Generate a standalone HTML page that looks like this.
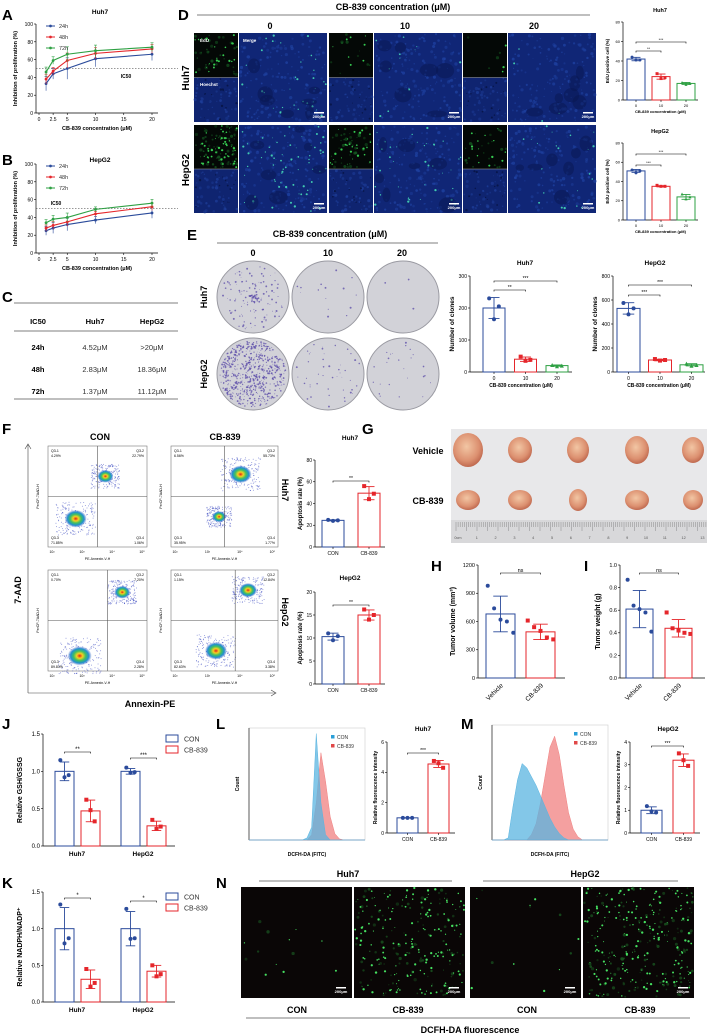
<!DOCTYPE html>
<html><head><meta charset="utf-8"><style>
html,body{margin:0;padding:0;background:#fff;}
svg{display:block;font-family:"Liberation Sans",Arial,sans-serif;}
</style></head><body>
<svg id="root" xmlns="http://www.w3.org/2000/svg" width="707" height="1036" viewBox="0 0 707 1036">
<rect width="707" height="1036" fill="#fff"/>
<defs>
<radialGradient id="blob" cx="50%" cy="50%" r="50%">
<stop offset="0" stop-color="#e0201a"/><stop offset="0.25" stop-color="#f5d020"/><stop offset="0.5" stop-color="#40c060"/><stop offset="0.75" stop-color="#2090d0"/><stop offset="1" stop-color="#3050c0" stop-opacity="0"/>
</radialGradient>
<radialGradient id="tumor" cx="45%" cy="40%" r="60%">
<stop offset="0" stop-color="#f2c6a4"/><stop offset="0.7" stop-color="#dc9070"/><stop offset="1" stop-color="#c06a50"/>
</radialGradient>
</defs>
<g font-weight="bold" font-size="15" fill="#000">
<text x="2" y="20">A</text>
<text x="2" y="165">B</text>
<text x="2" y="302">C</text>
<text x="178" y="20">D</text>
<text x="187" y="240">E</text>
<text x="2" y="434">F</text>
<text x="362" y="434">G</text>
<text x="431" y="571">H</text>
<text x="584" y="571">I</text>
<text x="2" y="729">J</text>
<text x="216" y="729">L</text>
<text x="461" y="729">M</text>
<text x="2" y="888">K</text>
<text x="216" y="888">N</text>
</g>
<g font-size="7.5" text-anchor="middle">
<line x1="14" y1="303" x2="178" y2="303" stroke="#555" stroke-width="0.8"/>
<text x="38" y="324" font-weight="bold">IC50</text><text x="95" y="324" font-weight="bold">Huh7</text><text x="152" y="324" font-weight="bold">HepG2</text>
<line x1="14" y1="331" x2="178" y2="331" stroke="#555" stroke-width="0.8"/>
<text x="38" y="350" font-weight="bold">24h</text><text x="95" y="350" fill="#333">4.52μM</text><text x="152" y="350" fill="#333">&gt;20μM</text>
<text x="38" y="372" font-weight="bold">48h</text><text x="95" y="372" fill="#333">2.83μM</text><text x="152" y="372" fill="#333">18.36μM</text>
<text x="38" y="394" font-weight="bold">72h</text><text x="95" y="394" fill="#333">1.37μM</text><text x="152" y="394" fill="#333">11.12μM</text>
<line x1="14" y1="399" x2="178" y2="399" stroke="#555" stroke-width="0.8"/>
</g>
<g font-weight="bold" text-anchor="middle">
<text x="393" y="10" font-size="9">CB-839 concentration (μM)</text>
<line x1="197" y1="15" x2="590" y2="15" stroke="#555" stroke-width="0.8"/>
<text x="270" y="29" font-size="9">0</text><text x="405" y="29" font-size="9">10</text><text x="534" y="29" font-size="9">20</text>
<text transform="translate(189,78) rotate(-90)" font-size="10">Huh7</text>
<text transform="translate(189,170) rotate(-90)" font-size="10">HepG2</text>
</g>
<g font-weight="bold" text-anchor="middle">
<text x="330" y="237" font-size="9">CB-839 concentration (μM)</text>
<line x1="217" y1="243" x2="438" y2="243" stroke="#555" stroke-width="0.8"/>
<text x="253" y="256" font-size="9">0</text><text x="328" y="256" font-size="9">10</text><text x="402" y="256" font-size="9">20</text>
<text transform="translate(207,297) rotate(-90)" font-size="9">Huh7</text>
<text transform="translate(207,374) rotate(-90)" font-size="9">HepG2</text>
</g>
<g font-weight="bold" text-anchor="middle">
<text x="100" y="440" font-size="9">CON</text><text x="225" y="440" font-size="9">CB-839</text>
<text transform="translate(21,590) rotate(-90)" font-size="9">7-AAD</text>
<text x="150" y="707" font-size="9">Annexin-PE</text>
<line x1="28" y1="693" x2="28" y2="445" stroke="#444" stroke-width="0.6"/><path d="M25,449 L28,444 L31,449" fill="none" stroke="#444" stroke-width="0.6"/>
<line x1="28" y1="693" x2="275" y2="693" stroke="#444" stroke-width="0.6"/><path d="M271,690 L276,693 L271,696" fill="none" stroke="#444" stroke-width="0.6"/>
<text transform="translate(282,490) rotate(90)" font-size="9">Huh7</text>
<text transform="translate(282,612) rotate(90)" font-size="9">HepG2</text>
</g>
<g font-weight="bold" text-anchor="middle" font-size="9">
<text x="348" y="877">Huh7</text><line x1="259" y1="881" x2="452" y2="881" stroke="#555" stroke-width="0.8"/>
<text x="585" y="877">HepG2</text><line x1="483" y1="881" x2="678" y2="881" stroke="#555" stroke-width="0.8"/>
<text x="297" y="1013">CON</text><text x="408" y="1013">CB-839</text><text x="527" y="1013">CON</text><text x="640" y="1013">CB-839</text>
<line x1="246" y1="1018" x2="690" y2="1018" stroke="#555" stroke-width="0.8"/>
<text x="470" y="1033">DCFH-DA fluorescence</text>
</g>
<g id="gen"></g>
</svg>
<script>
// ===== Chart data =====
const concX = [1.25, 2.5, 5, 10, 20];
const huh7_24h = [33, 44, 50, 61, 66];
const huh7_48h = [38, 47, 59, 67, 72];
const huh7_72h = [46, 59, 66, 70, 74];
const huh7_err = [8, 6, 12, 9, 7];
const hepg2_24h = [25, 28, 32, 37, 45];
const hepg2_48h = [28, 31, 35, 44, 52];
const hepg2_72h = [34, 38, 40, 49, 56];
const hepg2_err = [5, 6, 7, 4, 6];
const lineTicksY = [0, 20, 40, 60, 80, 100];
const lineTicksX = [0, 2.5, 5, 10, 15, 20];

const doseCats = ['0', '10', '20'];
const edu_huh7 = [42, 24, 17];
const edu_huh7_pts = [[44, 41, 41], [27, 22, 23], [18, 16, 17]];
const edu_hepg2 = [51, 35, 24];
const edu_hepg2_pts = [[52, 49, 51], [36, 35, 35], [27, 22, 24]];
const clone_huh7 = [200, 40, 20];
const clone_huh7_pts = [[230, 165, 205], [48, 35, 38], [22, 18, 20]];
const clone_hepg2 = [530, 100, 60];
const clone_hepg2_pts = [[575, 480, 530], [108, 95, 100], [70, 52, 58]];
const groupCats = ['CON', 'CB-839'];
const apo_huh7 = [24.5, 49.5];
const apo_huh7_pts = [[25, 24, 24.5], [56, 44, 49]];
const apo_hepg2 = [10.3, 15];
const apo_hepg2_pts = [[11, 9.5, 10.4], [16.2, 14, 15]];
const tumorCats = ['Vehicle', 'CB-839'];
const tumor_vol = [680, 490];
const tumor_vol_pts = [[980, 740, 620, 600, 480], [610, 540, 500, 430, 410]];
const tumor_wt = [0.61, 0.44];
const tumor_wt_pts = [[0.87, 0.64, 0.61, 0.58, 0.41], [0.58, 0.44, 0.42, 0.40, 0.39]];
const cellCats = ['Huh7', 'HepG2'];
const gsh_con = [1.0, 1.0];
const gsh_cb = [0.47, 0.27];
const gsh_con_pts = [[1.15, 0.92, 0.95], [1.05, 0.98, 0.99]];
const gsh_cb_pts = [[0.62, 0.48, 0.33], [0.35, 0.23, 0.26]];
const nadph_con = [1.0, 1.0];
const nadph_cb = [0.31, 0.42];
const nadph_con_pts = [[1.33, 0.80, 0.87], [1.27, 0.86, 0.87]];
const nadph_cb_pts = [[0.45, 0.21, 0.26], [0.50, 0.35, 0.38]];
const ros_huh7 = [1.0, 4.55];
const ros_huh7_pts = [[1.0, 1.0, 1.0], [4.75, 4.6, 4.3]];
const ros_hepg2 = [1.0, 3.2];
const ros_hepg2_pts = [[1.18, 0.95, 0.9], [3.5, 3.2, 2.95]];
const histL_con = [0,0,0,0,0,0,0,0,0,0,0,0,0.02,0.12,1.0,0.35,0.05,0,0,0,0,0,0,0,0];
const histL_cb  = [0,0,0,0,0,0,0,0,0,0,0,0,0,0.05,0.35,0.82,0.55,0.22,0.06,0.01,0,0,0,0,0];
const histM_con = [0,0,0,0.02,0.3,0.55,0.7,0.66,0.58,0.5,0.4,0.3,0.2,0.12,0.06,0.02,0,0,0,0,0,0,0,0,0];
const histM_cb  = [0,0,0,0,0,0,0,0,0.05,0.15,0.35,0.6,0.85,0.95,0.78,0.5,0.25,0.1,0.03,0,0,0,0,0,0];

// ===== helpers =====
const NS = 'http://www.w3.org/2000/svg';
const gen = document.getElementById('gen');
function mk(tag, attrs, parent) {
  const e = document.createElementNS(NS, tag);
  for (const k in attrs) e.setAttribute(k, attrs[k]);
  (parent || gen).appendChild(e);
  return e;
}
function tx(p, x, y, s, size, extra) {
  const a = Object.assign({x: x, y: y, 'font-size': size, 'text-anchor': 'middle'}, extra || {});
  const t = mk('text', a, p); t.textContent = s; return t;
}
let seed = 12345;
function rnd() { seed = (seed * 16807) % 2147483647; return (seed - 1) / 2147483646; }
const BLUE = '#2b4b9b', RED = '#e5262b', GREEN = '#2ea043';

function barChart(o) {
  const g = mk('g', {});
  
  
  const sy = v => o.y0 - v / o.vmax * (o.y0 - o.y1);
  const fs = o.fs || 5;
  mk('line', {x1: o.ax, y1: o.y0, x2: o.ax, y2: o.y1, stroke: '#000', 'stroke-width': 0.7}, g);
  mk('line', {x1: o.ax, y1: o.y0, x2: o.xEnd, y2: o.y0, stroke: '#000', 'stroke-width': 0.7}, g);
  o.ticks.forEach(t => {
    mk('line', {x1: o.ax - 2, y1: sy(t), x2: o.ax, y2: sy(t), stroke: '#000', 'stroke-width': 0.6}, g);
    tx(g, o.ax - 3, sy(t) + fs * 0.35, o.tickFmt ? o.tickFmt(t) : String(t), fs, {'text-anchor': 'end'});
  });
  o.values.forEach((v, i) => {
    const x = o.bx(i), w = o.bw, c = o.colors[i], cx = x + w / 2;
    const r = mk('rect', {x: x, y: sy(v), width: w, height: o.y0 - sy(v), fill: '#fff', stroke: c, 'stroke-width': 1}, g);
    
    
    const pts = o.pts[i];
    const mean = pts.reduce((a, b) => a + b, 0) / pts.length;
    const sd = Math.sqrt(pts.reduce((a, b) => a + (b - mean) * (b - mean), 0) / (pts.length - 1));
    mk('line', {x1: cx, y1: sy(v + sd), x2: cx, y2: sy(Math.max(0, v - sd)), stroke: c, 'stroke-width': 0.9}, g);
    mk('line', {x1: cx - w * 0.25, y1: sy(v + sd), x2: cx + w * 0.25, y2: sy(v + sd), stroke: c, 'stroke-width': 0.9}, g);
    mk('line', {x1: cx - w * 0.25, y1: sy(Math.max(0, v - sd)), x2: cx + w * 0.25, y2: sy(Math.max(0, v - sd)), stroke: c, 'stroke-width': 0.9}, g);
    pts.forEach((p, k) => {
      const px = cx + (k - (pts.length - 1) / 2) * w * 0.22;
      const ps = o.ps || 2;
      let d;
      if (c === BLUE) d = mk('circle', {cx: px, cy: sy(p), r: ps, fill: c}, g);
      else if (c === RED) d = mk('rect', {x: px - ps, y: sy(p) - ps, width: ps * 2, height: ps * 2, fill: c}, g);
      else d = mk('path', {d: `M${px},${sy(p) - ps} L${px + ps},${sy(p) + ps} L${px - ps},${sy(p) + ps}Z`, fill: c}, g);
      
      
    });
    if (o.cats) {
      if (o.rot) tx(g, 0, 0, o.cats[i], fs + 1, {transform: `translate(${cx + 3},${o.y0 + 8}) rotate(-45)`, 'text-anchor': 'end'});
      else { mk('line', {x1: cx, y1: o.y0, x2: cx, y2: o.y0 + 2, stroke: '#000', 'stroke-width': 0.6}, g); tx(g, cx, o.y0 + fs + 3, o.cats[i], fs); }
    }
  });
  (o.sig || []).forEach(s => {
    const x1 = o.bx(s[0]) + o.bw / 2, x2 = o.bx(s[1]) + o.bw / 2, y = s[2];
    mk('path', {d: `M${x1},${y + 1.5} L${x1},${y} L${x2},${y} L${x2},${y + 1.5}`, fill: 'none', stroke: '#000', 'stroke-width': 0.6}, g);
    tx(g, (x1 + x2) / 2, y - 1, s[3], fs);
  });
  if (o.title) tx(g, o.tx || (o.ax + o.xEnd) / 2, o.ty, o.title, fs + 1.5, {'font-weight': 'bold'});
  if (o.ylabel) tx(g, 0, 0, o.ylabel, o.ylfs || fs + 1, {transform: `translate(${o.ylx},${(o.y0 + o.y1) / 2}) rotate(-90)`, 'font-weight': 'bold'});
  if (o.xlabel) tx(g, (o.ax + o.xEnd) / 2, o.y0 + fs * 2 + 5, o.xlabel, fs, {'font-weight': 'bold'});
  return g;
}

function lineChart(o) {
  const g = mk('g', {});
  
  
  const sx = v => 39 + v * 5.65, sy = v => o.y0 - v / 100 * (o.y0 - o.y1);
  mk('line', {x1: 36, y1: o.y0, x2: 36, y2: o.y1, stroke: '#000', 'stroke-width': 0.7}, g);
  mk('line', {x1: 36, y1: o.y0, x2: 158, y2: o.y0, stroke: '#000', 'stroke-width': 0.7}, g);
  lineTicksY.forEach(t => { mk('line', {x1: 34, y1: sy(t), x2: 36, y2: sy(t), stroke: '#000', 'stroke-width': 0.6}, g); tx(g, 33, sy(t) + 2, String(t), 5, {'text-anchor': 'end'}); });
  lineTicksX.forEach(t => { mk('line', {x1: sx(t), y1: o.y0, x2: sx(t), y2: o.y0 + 2, stroke: '#000', 'stroke-width': 0.6}, g); tx(g, sx(t), o.y0 + 8, String(t), 5); });
  mk('line', {x1: 36, y1: sy(50), x2: 178, y2: sy(50), stroke: '#333', 'stroke-width': 0.6, 'stroke-dasharray': '1.5,1.5'}, g);
  tx(g, o.icx, o.icy, 'IC50', 5, {'font-weight': 'bold'});
  const cols = [BLUE, RED, GREEN], labs = ['24h', '48h', '72h'];
  o.series.forEach((s, si) => {
    const c = cols[si];
    const pl = mk('polyline', {points: concX.map((x, i) => sx(x) + ',' + sy(s[i])).join(' '), fill: 'none', stroke: c, 'stroke-width': 1.1}, g);
    
    
    concX.forEach((x, i) => {
      const e = o.err[i] * (si === 0 ? 1 : 0.7);
      mk('line', {x1: sx(x), y1: sy(s[i] - e), x2: sx(x), y2: sy(s[i] + e), stroke: c, 'stroke-width': 0.6}, g);
      mk('line', {x1: sx(x) - 1.5, y1: sy(s[i] + e), x2: sx(x) + 1.5, y2: sy(s[i] + e), stroke: c, 'stroke-width': 0.6}, g);
      const p = mk('circle', {cx: sx(x), cy: sy(s[i]), r: 1.4, fill: c}, g);
      
      
    });
    mk('line', {x1: 46, y1: o.y1 + 2 + si * 11, x2: 55, y2: o.y1 + 2 + si * 11, stroke: c, 'stroke-width': 1}, g);
    mk('circle', {cx: 50.5, cy: o.y1 + 2 + si * 11, r: 1.4, fill: c}, g);
    tx(g, 59, o.y1 + 4 + si * 11, labs[si], 5.5, {'text-anchor': 'start', fill: '#333'});
  });
  tx(g, 100, o.ty, o.title, 6.5, {'font-weight': 'bold'});
  tx(g, 0, 0, 'Inhibition of proliferation (%)', 5.5, {transform: `translate(17,${(o.y0 + o.y1) / 2}) rotate(-90)`, 'font-weight': 'bold'});
  tx(g, 97, o.y0 + 17, 'CB-839 concentration (μM)', 5.5, {'font-weight': 'bold'});
}

lineChart({name: 'chart-a-huh7', y0: 113, y1: 24, series: [huh7_24h, huh7_48h, huh7_72h], err: huh7_err, title: 'Huh7', ty: 14, icx: 126, icy: 78});
lineChart({name: 'chart-b-hepg2', y0: 253, y1: 164, series: [hepg2_24h, hepg2_48h, hepg2_72h], err: hepg2_err, title: 'HepG2', ty: 162, icx: 56, icy: 205});

// ===== textures =====
function micro(x, y, w, h, base, dot, n, dot2, n2, name) {
  const g = mk('g', {});
  
  
  mk('rect', {x: x, y: y, width: w, height: h, fill: base}, g);
  for (let i = 0; i < n; i++) mk('circle', {cx: x + 1 + rnd() * (w - 2), cy: y + 1 + rnd() * (h - 2), r: 0.5 + rnd() * 1.2, fill: dot, opacity: 0.4 + rnd() * 0.4}, g);
  for (let i = 0; i < n2; i++) mk('circle', {cx: x + 1 + rnd() * (w - 2), cy: y + 1 + rnd() * (h - 2), r: 0.4 + rnd() * 0.8, fill: dot2}, g);
  return g;
}
function scale(g, x, y) { mk('rect', {x: x, y: y, width: 10, height: 1.5, fill: '#fff'}, g); tx(g, x + 5, y + 6, '200μm', 4, {fill: '#fff', 'font-weight': 'bold'}); }
const dGroups = [194, 329, 463], dRows = [[33, 122], [125, 213]];
const greenN = [[90, 30, 10], [200, 110, 60]];
dRows.forEach((r, ri) => dGroups.forEach((gx, gi) => {
  const h = r[1] - r[0], mid = r[0] + h / 2;
  micro(gx, r[0], 44, h / 2, '#040806', '#155a22', greenN[ri][gi] / 3, '#35c850', greenN[ri][gi] / 4, 'edu-panel');
  micro(gx, mid, 44, h / 2, '#0f2470', '#1e3e9a', 50, '#08164a', 15, 'hoechst-panel');
  const m = micro(gx + 45, r[0], 88, h, '#102676', '#1f42a2', 170, '#40c8b0', greenN[ri][gi] * 0.35, 'merge-panel');
  for (let i = 0; i < 7; i++) { const rx = 4 + rnd() * 6, ry = 3 + rnd() * 5; mk('ellipse', {cx: gx + 45 + rx + rnd() * (88 - 2 * rx), cy: r[0] + ry + rnd() * (h - 2 * ry), rx: rx, ry: ry, fill: '#081650', opacity: 0.5}, m); }
  mk('line', {x1: gx, y1: mid, x2: gx + 44, y2: mid, stroke: '#aaa', 'stroke-width': 0.6}, m);
  scale(m, gx + 120, r[1] - 10);
}));
tx(gen, 200, 42, 'EdU', 4.5, {fill: '#fff', 'text-anchor': 'start', 'font-weight': 'bold'});
tx(gen, 200, 86, 'Hoechst', 4.5, {fill: '#fff', 'text-anchor': 'start', 'font-weight': 'bold'});
tx(gen, 243, 42, 'Merge', 4.5, {fill: '#fff', 'text-anchor': 'start', 'font-weight': 'bold'});

// colony plates
const plX = [217, 292, 367], plY = [261, 338], plDots = [[140, 15, 3], [600, 45, 25]];
plY.forEach((py, ri) => plX.forEach((px, ci) => {
  const g = mk('g', {});
  
  
  mk('circle', {cx: px + 36, cy: py + 36, r: 36, fill: '#d2d2d8', stroke: '#9a9aa2', 'stroke-width': 1}, g);
  const conc = ri === 0 && ci === 0;
  for (let i = 0; i < plDots[ri][ci]; i++) { const a = rnd() * 6.283, rr = (conc ? rnd() : Math.sqrt(rnd())) * 33; mk('circle', {cx: px + 36 + Math.cos(a) * rr, cy: py + 36 + Math.sin(a) * rr, r: 0.3 + rnd() * 0.7, fill: '#5a4aa8', opacity: 0.75}, g); }
}));

// flow plots
const fX = [48, 171], fY = [446, 570];
const flowBlobs = [[[[0.28, 0.72, 11], [0.58, 0.3, 8]], [[0.45, 0.7, 7], [0.65, 0.28, 11]]], [[[0.32, 0.85, 12], [0.75, 0.22, 8]], [[0.42, 0.8, 11], [0.72, 0.2, 9]]]];
const flowQ = [[['4.29%', '22.79%', '71.85%', '1.06%'], ['6.56%', '55.73%', '35.95%', '1.77%']], [['0.70%', '7.20%', '89.83%', '2.28%'], ['1.15%', '12.84%', '82.63%', '3.38%']]];
fY.forEach((fy, ri) => fX.forEach((fx, ci) => {
  const g = mk('g', {});
  
  
  const w = ci ? 107 : 99, h = 101;
  mk('rect', {x: fx, y: fy, width: w, height: h, fill: '#fff', stroke: '#777', 'stroke-width': 0.6}, g);
  const qx = fx + w * (ri ? 0.6 : 0.5), qy = fy + h * 0.5;
  for (let i = 0; i < 400; i++) {
    const b = flowBlobs[ri][ci][i % 2];
    const px = fx + w * b[0] + (rnd() - 0.5) * b[2] * 3.6, py = fy + h * b[1] + (rnd() - 0.5) * b[2] * 3;
    mk('circle', {cx: px, cy: py, r: 0.5, fill: '#3848c0', opacity: 0.6}, g);
  }
  flowBlobs[ri][ci].forEach(b => mk('ellipse', {cx: fx + w * b[0], cy: fy + h * b[1], rx: b[2], ry: b[2] * 0.8, fill: 'url(#blob)'}, g));
  mk('line', {x1: qx, y1: fy, x2: qx, y2: fy + h, stroke: '#555', 'stroke-width': 0.6}, g);
  mk('line', {x1: fx, y1: qy, x2: fx + w, y2: qy, stroke: '#555', 'stroke-width': 0.6}, g);
  const q = flowQ[ri][ci];
  tx(g, fx + 3, fy + 6, 'Q3-1', 3.5, {'text-anchor': 'start'}); tx(g, fx + 3, fy + 11, q[0], 3.5, {'text-anchor': 'start'});
  tx(g, fx + w - 3, fy + 6, 'Q3-2', 3.5, {'text-anchor': 'end'}); tx(g, fx + w - 3, fy + 11, q[1], 3.5, {'text-anchor': 'end'});
  tx(g, fx + 3, fy + h - 8, 'Q3-3', 3.5, {'text-anchor': 'start'}); tx(g, fx + 3, fy + h - 3, q[2], 3.5, {'text-anchor': 'start'});
  tx(g, fx + w - 3, fy + h - 8, 'Q3-4', 3.5, {'text-anchor': 'end'}); tx(g, fx + w - 3, fy + h - 3, q[3], 3.5, {'text-anchor': 'end'});
  tx(g, fx + w / 2, fy + h + 13, 'PE-Annexin-V-H', 3.5);
  tx(g, 0, 0, 'PerCP-7AAD-H', 3.5, {transform: `translate(${fx - 9},${fy + h / 2}) rotate(-90)`});
  ['10²', '10³', '10⁴', '10⁵'].forEach((l, k) => tx(g, fx + 4 + k * w / 3.3, fy + h + 6, l, 3.5));
}));

// tumor photo
(function () {
  const g = mk('g', {});
  
  
  mk('rect', {x: 451, y: 429, width: 256, height: 114, fill: '#e8e8ea'}, g);
  mk('rect', {x: 451, y: 520, width: 256, height: 23, fill: '#d8d8da'}, g);
  for (let i = 0; i < 120; i++) mk('line', {x1: 456 + i * 2.1, y1: 522, x2: 456 + i * 2.1, y2: i % 5 ? 527 : 531, stroke: '#777', 'stroke-width': 0.4}, g);
  for (let i = 0; i <= 13; i++) tx(g, 458 + i * 18.8, 539, i ? String(i) : '0cm', 3.8, {fill: '#555'});
  const tx1 = [468, 520, 578, 637, 693];
  const vs = [[15, 17], [12, 13], [11, 13], [12, 14], [11, 13]], cs = [[12, 10], [12, 10], [9, 11], [12, 10], [10, 10]];
  tx1.forEach((x, i) => {
    mk('ellipse', {cx: x, cy: 450, rx: vs[i][0], ry: vs[i][1], fill: 'url(#tumor)'}, g);
    mk('ellipse', {cx: x, cy: 500, rx: cs[i][0], ry: cs[i][1], fill: 'url(#tumor)'}, g);
  });
  tx(g, 428, 454, 'Vehicle', 9, {'font-weight': 'bold'});
  tx(g, 428, 504, 'CB-839', 9, {'font-weight': 'bold'});
})();

// histograms
function hist(o) {
  const g = mk('g', {});
  
  
  mk('rect', {x: o.x, y: o.y, width: o.w, height: o.h, fill: '#fff', stroke: '#ccc', 'stroke-width': 0.6}, g);
  mk('line', {x1: o.x, y1: o.y + o.h, x2: o.x + o.w, y2: o.y + o.h, stroke: '#000', 'stroke-width': 0.6}, g);
  mk('line', {x1: o.x, y1: o.y, x2: o.x, y2: o.y + o.h, stroke: '#000', 'stroke-width': 0.6}, g);
  const series = [[o.cb, '#f08080'], [o.con, '#5ab4e0']];
  series.forEach(s => {
    const n = s[0].length;
    let d = `M${o.x},${o.y + o.h}`;
    s[0].forEach((v, i) => { d += ` L${o.x + (i + 0.5) / n * o.w},${o.y + o.h - v * o.h * 0.95}`; });
    d += ` L${o.x + o.w},${o.y + o.h}Z`;
    const p = mk('path', {d: d, fill: s[1], 'fill-opacity': 0.75, stroke: s[1], 'stroke-width': 0.5}, g);
    
    
  });
  mk('rect', {x: o.x + o.w - 34, y: o.y + 7, width: 3.5, height: 3.5, fill: '#2a9fd8'}, g);
  tx(g, o.x + o.w - 28, o.y + 11, 'CON', 5, {'text-anchor': 'start', fill: '#333'});
  mk('rect', {x: o.x + o.w - 34, y: o.y + 16, width: 3.5, height: 3.5, fill: '#e04848'}, g);
  tx(g, o.x + o.w - 28, o.y + 20, 'CB-839', 5, {'text-anchor': 'start', fill: '#333'});
  tx(g, o.x + o.w / 2, o.y + o.h + 16, 'DCFH-DA (FITC)', 5, {'font-weight': 'bold'});
  tx(g, 0, 0, 'Count', 5, {transform: `translate(${o.x - 10},${o.y + o.h / 2}) rotate(-90)`, 'font-weight': 'bold'});
}
hist({name: 'hist-l-huh7', x: 249, y: 728, w: 116, h: 112, con: histL_con, cb: histL_cb});
hist({name: 'hist-m-hepg2', x: 492, y: 725, w: 116, h: 115, con: histM_con, cb: histM_cb});

// N images
[[241, 8], [354, 160], [470, 8], [583, 200]].forEach((p) => {
  const g = micro(p[0], 887, 111, 111, '#0a0606', '#1a5a22', p[1] * 0.6, '#45e060', p[1], 'dcfh-image');
  scale(g, p[0] + 95, 987);
});

// bar charts
const d3 = [BLUE, RED, GREEN], d2 = [BLUE, RED];
barChart({name: 'chart-d-edu-huh7', ax: 623, xEnd: 698, y0: 100, y1: 22, vmax: 80, ticks: [0, 20, 40, 60, 80], values: edu_huh7, pts: edu_huh7_pts, cats: doseCats, colors: d3, bx: i => 627 + i * 25, bw: 18, fs: 4, ps: 1.5, title: 'Huh7', ty: 12, tx: 660, ylabel: 'EdU positive cell (%)', ylx: 609, ylfs: 4.5, xlabel: 'CB-839 concentration (μM)', sig: [[0, 1, 51, '**'], [0, 2, 42, '***']]});
barChart({name: 'chart-d-edu-hepg2', ax: 623, xEnd: 698, y0: 220, y1: 143, vmax: 80, ticks: [0, 20, 40, 60, 80], values: edu_hepg2, pts: edu_hepg2_pts, cats: doseCats, colors: d3, bx: i => 627 + i * 25, bw: 18, fs: 4, ps: 1.5, title: 'HepG2', ty: 133, tx: 660, ylabel: 'EdU positive cell (%)', ylx: 609, ylfs: 4.5, xlabel: 'CB-839 concentration (μM)', sig: [[0, 1, 165, '***'], [0, 2, 154, '***']]});
barChart({name: 'chart-e-clones-huh7', ax: 470, xEnd: 572, y0: 372, y1: 276, vmax: 300, ticks: [0, 100, 200, 300], values: clone_huh7, pts: clone_huh7_pts, cats: doseCats, colors: d3, bx: i => 483 + i * 31.5, bw: 22, fs: 5, title: 'Huh7', ty: 265, tx: 525, ylabel: 'Number of clones', ylx: 454, ylfs: 6.5, xlabel: 'CB-839 concentration (μM)', sig: [[0, 1, 290, '**'], [0, 2, 281, '***']]});
barChart({name: 'chart-e-clones-hepg2', ax: 613, xEnd: 705, y0: 372, y1: 276, vmax: 800, ticks: [0, 200, 400, 600, 800], values: clone_hepg2, pts: clone_hepg2_pts, cats: doseCats, colors: d3, bx: i => 617 + i * 31.5, bw: 23, fs: 5, title: 'HepG2', ty: 265, tx: 655, ylabel: 'Number of clones', ylx: 597, ylfs: 6.5, xlabel: 'CB-839 concentration (μM)', sig: [[0, 1, 295, '***'], [0, 2, 285, '***']]});
barChart({name: 'chart-f-apoptosis-huh7', ax: 315, xEnd: 385, y0: 547, y1: 460, vmax: 80, ticks: [0, 20, 40, 60, 80], values: apo_huh7, pts: apo_huh7_pts, cats: groupCats, colors: d2, bx: i => 322 + i * 36, bw: 22, fs: 5, title: 'Huh7', ty: 440, tx: 350, ylabel: 'Apoptosis rate (%)', ylx: 302, sig: [[0, 1, 481, '**']]});
barChart({name: 'chart-f-apoptosis-hepg2', ax: 315, xEnd: 385, y0: 684, y1: 592, vmax: 20, ticks: [0, 5, 10, 15, 20], values: apo_hepg2, pts: apo_hepg2_pts, cats: groupCats, colors: d2, bx: i => 322 + i * 36, bw: 22, fs: 5, title: 'HepG2', ty: 580, tx: 350, ylabel: 'Apoptosis rate (%)', ylx: 302, sig: [[0, 1, 605, '**']]});
barChart({name: 'chart-h-tumor-volume', ax: 478, xEnd: 565, y0: 678, y1: 565, vmax: 1200, ticks: [0, 300, 600, 900, 1200], values: tumor_vol, pts: tumor_vol_pts, cats: tumorCats, rot: true, colors: d2, bx: i => 486 + i * 40, bw: 29, fs: 5.5, ps: 2, ylabel: 'Tumor volume (mm³)', ylx: 455, ylfs: 7, sig: [[0, 1, 573, 'ns']]});
barChart({name: 'chart-i-tumor-weight', ax: 620, xEnd: 705, y0: 678, y1: 565, vmax: 1.0, ticks: [0, 0.2, 0.4, 0.6, 0.8, 1.0], tickFmt: t => t.toFixed(1), values: tumor_wt, pts: tumor_wt_pts, cats: tumorCats, rot: true, colors: d2, bx: i => 626 + i * 39, bw: 27, fs: 5.5, ps: 2, ylabel: 'Tumor weight (g)', ylx: 600, ylfs: 7, sig: [[0, 1, 573, 'ns']]});

function grouped(o) {
  const vals = [o.con[0], o.cb[0], o.con[1], o.cb[1]];
  const pts = [o.conP[0], o.cbP[0], o.conP[1], o.cbP[1]];
  const g = barChart({name: o.name, ax: 43, xEnd: 175, y0: o.y0, y1: o.y1, vmax: 1.5, ticks: [0, 0.5, 1.0, 1.5], tickFmt: t => t.toFixed(1), values: vals, pts: pts, colors: [BLUE, RED, BLUE, RED], bx: i => 55 + Math.floor(i / 2) * 66 + (i % 2) * 26, bw: 19, fs: 6, ps: 2, ylabel: o.ylabel, ylx: 22, ylfs: 7, sig: o.sig});
  cellCats.forEach((c, k) => tx(g, 77 + k * 66, o.y0 + 10, c, 6.5, {'font-weight': 'bold'}));
  mk('rect', {x: 166, y: o.y1 + 1, width: 12, height: 7, fill: 'none', stroke: BLUE, 'stroke-width': 1}, g);
  tx(g, 184, o.y1 + 7.5, 'CON', 7, {'text-anchor': 'start', fill: '#333'});
  mk('rect', {x: 166, y: o.y1 + 12, width: 12, height: 7, fill: 'none', stroke: RED, 'stroke-width': 1}, g);
  tx(g, 184, o.y1 + 18.5, 'CB-839', 7, {'text-anchor': 'start', fill: '#333'});
}
grouped({name: 'chart-j-gsh-gssg', y0: 846, y1: 734, con: gsh_con, cb: gsh_cb, conP: gsh_con_pts, cbP: gsh_cb_pts, ylabel: 'Relative GSH/GSSG', sig: [[0, 1, 752, '**'], [2, 3, 758, '***']]});
grouped({name: 'chart-k-nadph', y0: 1002, y1: 892, con: nadph_con, cb: nadph_cb, conP: nadph_con_pts, cbP: nadph_cb_pts, ylabel: 'Relative NADPH/NADP⁺', sig: [[0, 1, 898, '*'], [2, 3, 901, '*']]});
barChart({name: 'chart-l-ros-huh7', ax: 387, xEnd: 455, y0: 833, y1: 742, vmax: 6, ticks: [0, 2, 4, 6], values: ros_huh7, pts: ros_huh7_pts, cats: groupCats, colors: d2, bx: i => 397 + i * 31, bw: 21, fs: 5, title: 'Huh7', ty: 731, tx: 423, ylabel: 'Relative fluorescence intensity', ylx: 377, ylfs: 5, sig: [[0, 1, 753, '***']]});
barChart({name: 'chart-m-ros-hepg2', ax: 630, xEnd: 700, y0: 833, y1: 742, vmax: 4, ticks: [0, 1, 2, 3, 4], values: ros_hepg2, pts: ros_hepg2_pts, cats: groupCats, colors: d2, bx: i => 641 + i * 32, bw: 21, fs: 5, title: 'HepG2', ty: 731, tx: 668, ylabel: 'Relative fluorescence intensity', ylx: 620, ylfs: 5, sig: [[0, 1, 746, '***']]});
</script>
</body></html>
